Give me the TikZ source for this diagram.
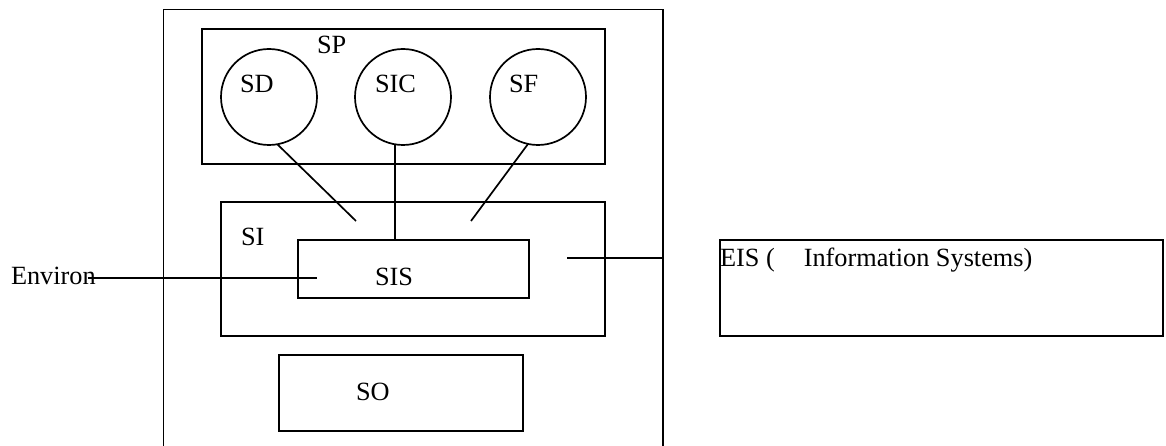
\documentclass[tikz,border=0pt]{standalone}
\usepackage{fontspec}
\setmainfont{Liberation Serif}
\begin{document}
\begin{tikzpicture}[x=1pt,y=-1pt,
  every node/.style={font=\fontsize{26.3}{30}\selectfont, inner sep=0pt, outer sep=0pt},
  thinbox/.style={draw, line width=1.7pt, rectangle, anchor=north west},
  thickbox/.style={draw, line width=2.4pt, rectangle, anchor=north west},
  sub/.style={draw, circle, line width=1.7pt, minimum size=96pt},
  lbl/.style={anchor=base west},
  conn/.style={line width=1.7pt}]
\useasboundingbox (0,0) rectangle (1166,446);
% outer system (open at the bottom)
\draw[line width=1.9pt] (163.5,446) -- (163.5,9.5) -- (663,9.5) -- (663,446);
% SP box
\node[thinbox, minimum width=403pt, minimum height=135pt] (sp) at (202,29) {};
\node[lbl] (splbl) at (317,54) {SP};
% circles
\node[sub] (sd) at (269,97) {};
\node[sub] (sic) at (403,97) {};
\node[sub] (sf) at (538,97) {};
\node[lbl] (sdl) at (240,93) {SD};
\node[lbl] (sicl) at (375,93) {SIC};
\node[lbl] (sfl) at (509,93) {SF};
% SI box
\node[thickbox, minimum width=384pt, minimum height=134pt] (si) at (221,202) {};
\node[lbl] (sil) at (241,246) {SI};
% SIS box
\node[thickbox, minimum width=231pt, minimum height=58pt] (sis) at (298,240) {};
\node[lbl] (sisl) at (375,285) {SIS};
% SO box
\node[thickbox, minimum width=244pt, minimum height=76pt] (so) at (279,355) {};
\node[lbl] (sol) at (356,400) {SO};
% EIS box
\node[thickbox, minimum width=443pt, minimum height=96pt] (eis) at (720,240) {};
\node[lbl] (eisl) at (720,266) {EIS (\hspace{29pt}Information Systems)};
% Environ
\node[lbl] (env) at (11,284) {Environ};
% connectors
\coordinate (sdend) at (356,221);
\coordinate (sfend) at (471,221);
\coordinate (envend) at (317,278);
\coordinate (sirun) at (567,258);
\coordinate (outR) at (663,258);
\draw[conn] (sd.-80) -- (sdend);
\draw[conn] (sic.-100) -- (sic.-100 |- sis.north);
\draw[conn] (sf.-102) -- (sfend);
\draw[conn] ([xshift=-8pt]env.east |- envend) -- (envend);
\draw[conn] (sirun) -- (outR);
\end{tikzpicture}
\end{document}
